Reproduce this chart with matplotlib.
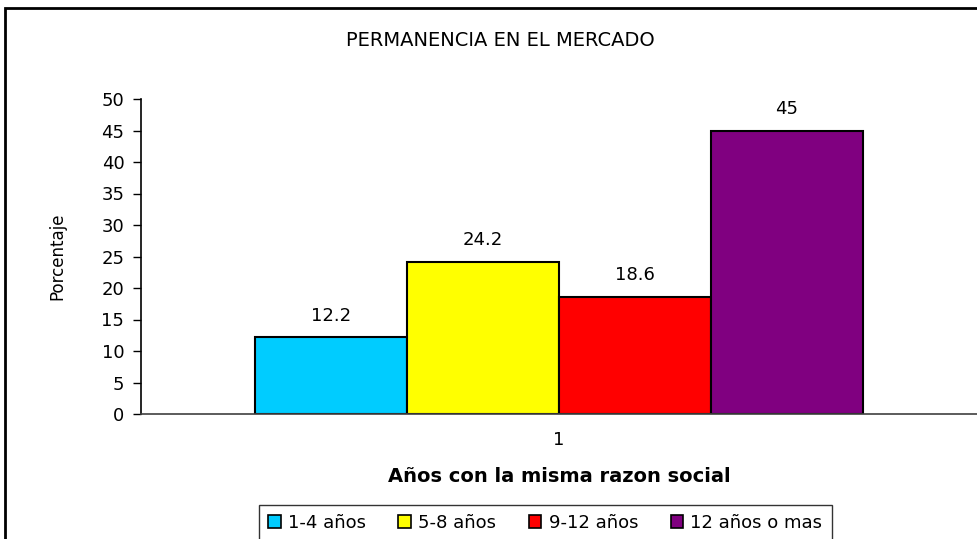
import matplotlib
matplotlib.use("Agg")
import matplotlib.pyplot as plt
from matplotlib.patches import Rectangle, Patch

categories = ["1-4 años", "5-8 años", "9-12 años", "12 años o mas"]
values = [12.2, 24.2, 18.6, 45]
colors = ["#00CCFF", "#FFFF00", "#FF0000", "#800080"]
xtick_labels = ["1"]
yticks = [0, 5, 10, 15, 20, 25, 30, 35, 40, 45, 50]

plt.rcParams['font.family'] = ['DejaVu Sans']

W, H = 977, 539
fig = plt.figure(figsize=(W / 100, H / 100), dpi=100)

def fx(px):
    return px / W

def fy(py):
    return 1 - py / H

# outer chart frame (cropped at right/bottom)
fig.patches.append(Rectangle((fx(5), fy(560)), fx(1100), fy(8) - fy(560),
                             transform=fig.transFigure, fill=False,
                             edgecolor="black", linewidth=2))

ax = fig.add_axes([fx(141), fy(414), fx(977) - fx(141), fy(99) - fy(414)])
w = 0.25
positions = [(-1.5 + i) * w for i in range(len(values))]
bars = ax.bar(positions, values, width=w, color=colors, edgecolor="black", linewidth=1.5)
for b, v in zip(bars, values):
    ax.annotate(f"{v:g}", (b.get_x() + b.get_width() / 2, v), xytext=(0, 9),
                textcoords="offset points", ha="center", va="bottom", fontsize=13)

half = (836 / 608) / 2
ax.set_xlim(-half, half)
ax.set_ylim(0, 50)
ax.set_yticks(yticks)
ax.set_yticklabels([str(t) for t in yticks], fontsize=13)
ax.set_xticks([0])
ax.set_xticklabels(xtick_labels, fontsize=13)
ax.tick_params(axis="x", length=0, pad=12)
ax.tick_params(axis="y", direction="out", length=6, width=1, pad=6)
for s in ["top", "right"]:
    ax.spines[s].set_visible(False)
ax.spines["left"].set_color("black")
ax.spines["bottom"].set_color("#404040")
ax.spines["left"].set_linewidth(1.2)
ax.spines["bottom"].set_linewidth(1.2)

ax.set_ylabel("Porcentaje", fontsize=12)
ax.yaxis.set_label_coords((66 - 141) / 836, (414 - 256) / 315)
fig.text(fx(500), fy(40), "PERMANENCIA EN EL MERCADO", ha="center", va="center",
         fontsize=14)
fig.text(fx(559), fy(476), "Años con la misma razon social", ha="center", va="center",
         fontsize=14, fontweight="bold")

handles = [Patch(facecolor=c, edgecolor="black", linewidth=1.2) for c in colors]
leg = fig.legend(handles, categories, loc="upper left",
                 bbox_to_anchor=(fx(259), fy(505)), ncol=4, frameon=True,
                 fancybox=False, edgecolor="black", fontsize=13,
                 handlelength=0.7, handleheight=0.7, handletextpad=0.4,
                 columnspacing=1.8, borderpad=0.5, borderaxespad=0)
leg.get_frame().set_linewidth(1)

fig.savefig("out.png", dpi=100)
